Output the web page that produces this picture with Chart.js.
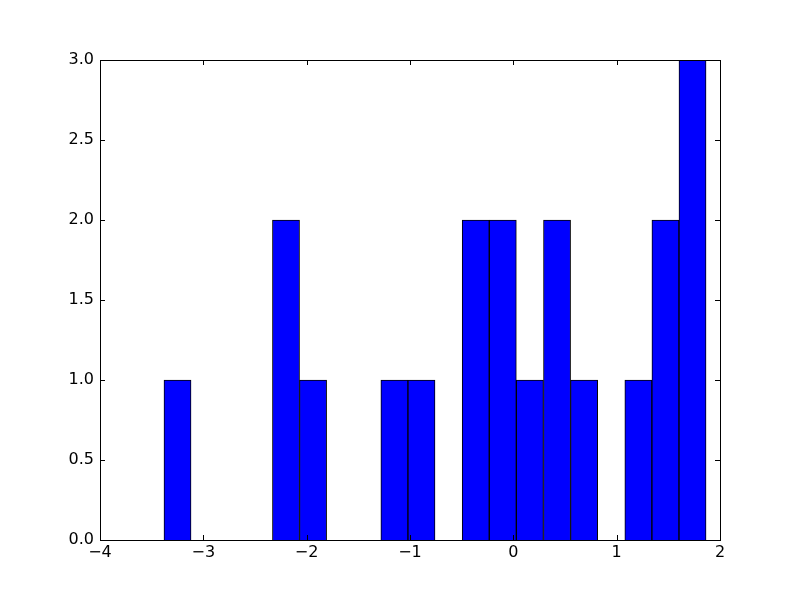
<!DOCTYPE html>
<html>
<head>
<meta charset="utf-8">
<title>Histogram</title>
<script src="https://cdn.jsdelivr.net/npm/chart.js@4.4.1/dist/chart.umd.min.js"></script>
<style>
  body { margin: 0; background: #fff; }
  #wrap { width: 800px; height: 600px; }
</style>
</head>
<body>
<div id="wrap"><canvas id="myChart" width="800" height="600"></canvas></div>
<script>
// histogram bins (centres) and counts
var binCenters = [-3.250, -2.987, -2.725, -2.463, -2.200, -1.938, -1.676, -1.413, -1.151, -0.889,
                  -0.627, -0.364, -0.102, 0.160, 0.423, 0.685, 0.947, 1.210, 1.472, 1.734];
var counts = [1, 0, 0, 0, 2, 1, 0, 0, 1, 1,
              0, 2, 2, 1, 2, 1, 0, 1, 2, 3];
var xTicks = [-4, -3, -2, -1, 0, 1, 2];
var yTicks = [0, 0.5, 1, 1.5, 2, 2.5, 3];

var points = binCenters.map(function (x, i) { return { x: x, y: counts[i] }; });

// frame + inward ticks like matplotlib classic
var framePlugin = {
    id: 'frame',
    afterDraw: function (chart) {
        var c = chart.ctx, a = chart.chartArea;
        var xs = chart.scales.x, ys = chart.scales.y;
        var len = 5;
        c.save();
        c.strokeStyle = '#000';
        c.lineWidth = 1;
        c.beginPath();
        xTicks.forEach(function (v) {
            var px = Math.round(xs.getPixelForValue(v)) + 0.5;
            c.moveTo(px, a.bottom); c.lineTo(px, a.bottom - len);
            c.moveTo(px, a.top); c.lineTo(px, a.top + len);
        });
        yTicks.forEach(function (v) {
            var py = Math.round(ys.getPixelForValue(v)) + 0.5;
            c.moveTo(a.left, py); c.lineTo(a.left + len, py);
            c.moveTo(a.right, py); c.lineTo(a.right - len, py);
        });
        c.stroke();
        c.strokeRect(Math.round(a.left) + 0.5, Math.round(a.top) + 0.5,
                     Math.round(a.right - a.left), Math.round(a.bottom - a.top));
        c.restore();
    }
};

Chart.defaults.font.family = 'DejaVu Sans';
Chart.defaults.font.size = 16;
Chart.defaults.color = '#000';

var ctx = document.getElementById('myChart').getContext('2d');
var myChart = new Chart(ctx, {
    type: 'bar',
    data: {
        datasets: [{
            data: points,
            backgroundColor: '#0000ff',
            borderColor: '#000',
            borderWidth: 1,
            barPercentage: 1.0,
            categoryPercentage: 1.0,
            grouped: false
        }]
    },
    options: {
        responsive: false,
        animation: false,
        events: [],
        layout: { padding: { top: 60, right: 80, left: 0, bottom: 0 } },
        plugins: {
            legend: { display: false },
            tooltip: { enabled: false }
        },
        scales: {
            x: {
                type: 'linear',
                min: -4,
                max: 2,
                offset: false,
                grid: { display: false, drawTicks: false },
                border: { display: false },
                afterFit: function (scale) { scale.height = 60; },
                afterBuildTicks: function (scale) {
                    scale.ticks = xTicks.map(function (v) { return { value: v }; });
                },
                ticks: {
                    padding: 3,
                    maxRotation: 0,
                    callback: function (v) { return String(v).replace('-', '\u2212'); }
                }
            },
            y: {
                min: 0,
                max: 3,
                grid: { display: false, drawTicks: false },
                border: { display: false },
                afterFit: function (scale) { scale.width = 100; },
                afterBuildTicks: function (scale) {
                    scale.ticks = yTicks.map(function (v) { return { value: v }; });
                },
                ticks: {
                    padding: 6,
                    callback: function (v) { return Number(v).toFixed(1); }
                }
            }
        }
    },
    plugins: [framePlugin]
});
</script>
</body>
</html>
